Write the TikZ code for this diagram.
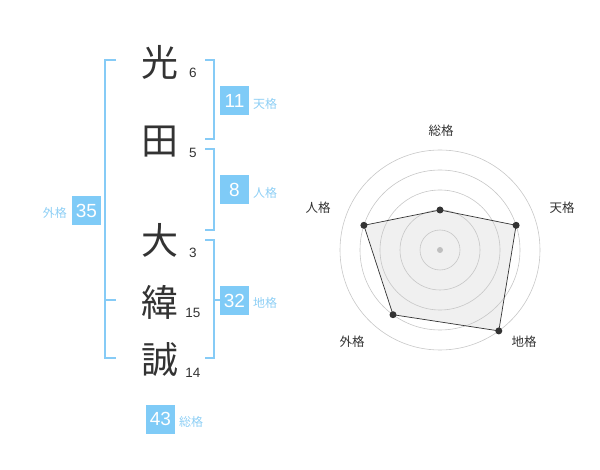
\documentclass[tikz,border=0pt]{standalone}
\usepackage{fontspec}
\setmainfont{Liberation Sans}
\newfontfamily\jp{Noto Sans CJK JP}
\definecolor{brk}{HTML}{86CBF6}
\definecolor{badge}{HTML}{7FCBF7}
\definecolor{lbl}{HTML}{8ECFF5}
\definecolor{ink}{HTML}{333333}
\begin{document}
\begin{tikzpicture}[x=1pt,y=-1pt,
  kanji/.style={font=\jp\fontsize{37}{37}\selectfont, text=ink, inner sep=0},
  stroke/.style={font=\fontsize{13.5}{13.5}\selectfont, text=ink, inner sep=0},
  badgebox/.style={fill=badge, text=white, minimum width=29, minimum height=29, inner sep=0, font=\fontsize{19}{19}\selectfont},
  kaku/.style={font=\jp\fontsize{12}{12}\selectfont, text=lbl, inner sep=0, anchor=west},
  brline/.style={draw=brk, line width=1.4pt},
  ring/.style={draw=black!22, line width=0.6pt},
  axlbl/.style={font=\jp\fontsize{12.5}{12.5}\selectfont, text=ink, inner sep=0},
  dot/.style={circle, fill=ink, inner sep=0, minimum size=7}]
\useasboundingbox (0,0) rectangle (600,470);
% kanji
\node[kanji] (k1) at (160,62) {光};
\node[kanji] (k2) at (160,142) {田};
\node[kanji] (k3) at (160,240) {大};
\node[kanji] (k4) at (160,302) {緯};
\node[kanji] (k5) at (160,360) {誠};
\node[stroke] (n1) at (193,73) {6};
\node[stroke] (n2) at (193,153) {5};
\node[stroke] (n3) at (193,253) {3};
\node[stroke] (n4) at (193,313) {15};
\node[stroke] (n5) at (193,373) {14};
% brackets
\coordinate (oa) at (116,60); \coordinate (ob) at (116,358); \coordinate (om) at (116,300);
\draw[brline] (oa) -| (105,358) -- (ob);
\draw[brline] (105,300) -- (om);
\coordinate (ta) at (205,60); \coordinate (tb) at (205,139);
\draw[brline] (ta) -| (214,139) -- (tb);
\coordinate (ja) at (205,149); \coordinate (jb) at (205,230);
\draw[brline] (ja) -| (214,230) -- (jb);
\coordinate (ca) at (205,240); \coordinate (cb) at (205,358); \coordinate (cm) at (214,300);
\draw[brline] (ca) -| (214,358) -- (cb);
\draw[brline] (cm) -- (220,300);
% badges
\node[badgebox] (b11) at (234.5,100.5) {11};
\node[kaku] (l11) at (253,104) {天格};
\node[badgebox] (b8) at (234.5,190) {8};
\node[kaku] (l8) at (253,193) {人格};
\node[badgebox] (b32) at (234.5,300.5) {32};
\node[kaku] (l32) at (253,303) {地格};
\node[badgebox] (b35) at (86.5,211) {35};
\node[kaku, anchor=east] (l35) at (67,213) {外格};
\node[badgebox] (b43) at (160.5,419) {43};
\node[kaku] (l43) at (179,422) {総格};
% radar
\coordinate (c) at (440,250);
\coordinate (p1) at (440,210);
\coordinate (p2) at (516.1,225.3);
\coordinate (p3) at (498.8,330.9);
\coordinate (p4) at (393.0,314.7);
\coordinate (p5) at (363.9,225.3);
\fill[black!6] (p1) -- (p2) -- (p3) -- (p4) -- (p5) -- cycle;
\foreach \r in {20,40,60,80,100} \draw[ring] (c) circle[radius=\r];
\draw[draw=ink, line width=0.7pt] (p1) -- (p2) -- (p3) -- (p4) -- (p5) -- cycle;
\foreach \p in {p1,p2,p3,p4,p5} \node[dot] at (\p) {};
\node[circle, fill=black!25, inner sep=0, minimum size=6] (cd) at (c) {};
\node[axlbl] (a1) at (441,131) {総格};
\node[axlbl] (a2) at (562,208) {天格};
\node[axlbl] (a3) at (524,342) {地格};
\node[axlbl] (a4) at (352,342) {外格};
\node[axlbl] (a5) at (318,208) {人格};
\end{tikzpicture}
\end{document}
